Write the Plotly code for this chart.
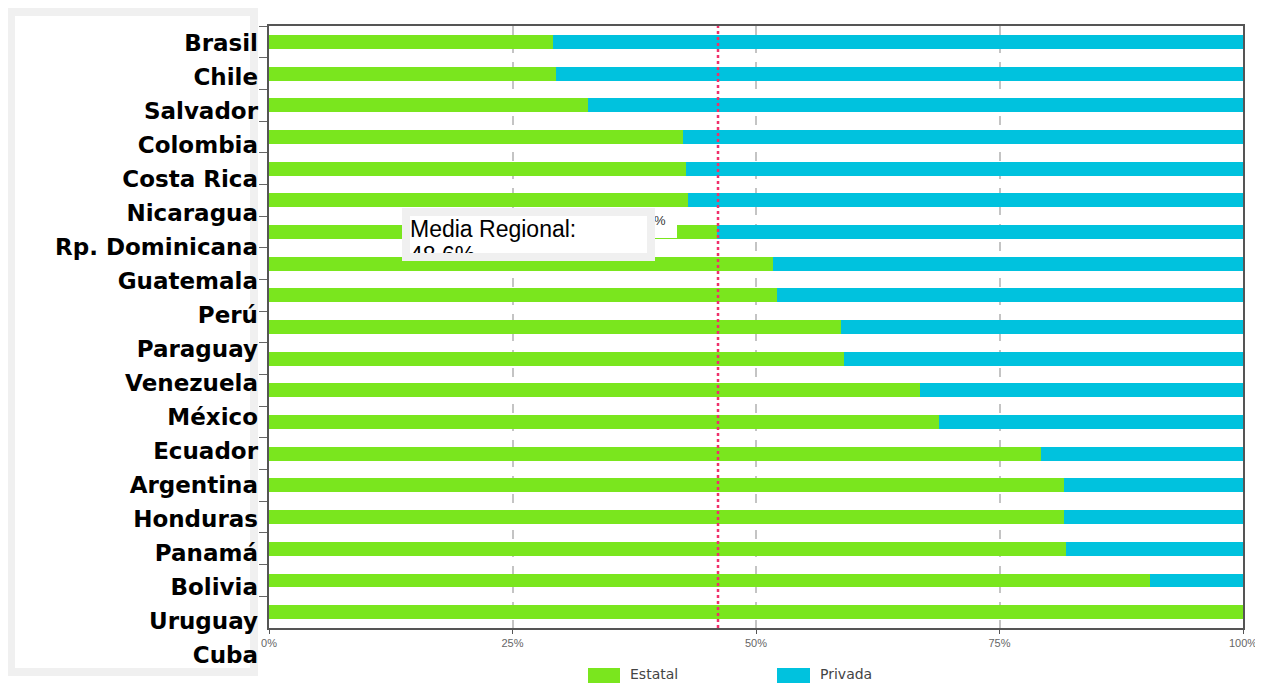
import plotly.graph_objects as go

countries = ["Brasil", "Chile", "Salvador", "Colombia", "Costa Rica", "Nicaragua",
             "Rp. Dominicana", "Guatemala", "Perú", "Paraguay", "Venezuela", "México",
             "Ecuador", "Argentina", "Honduras", "Panamá", "Bolivia", "Uruguay", "Cuba"]
estatal = [29.2, 29.5, 32.8, 42.5, 42.8, 43.0, 46.0, 51.7, 52.2, 58.7, 59.0, 66.8,
           68.8, 79.3, 81.6, 81.6, 81.8, 90.4, 100.0]
privada = [70.8, 70.5, 67.2, 57.5, 57.2, 57.0, 54.0, 48.3, 47.8, 41.3, 41.0, 33.2,
           31.2, 20.7, 18.4, 18.4, 18.2, 9.6, 0.0]
media_regional = 46.1
media_text = "48.6%"
x_ticks = [0, 25, 50, 75, 100]
x_tick_labels = ["0%", "25%", "50%", "75%", "100%"]
series_names = ["Estatal", "Privada"]

GREEN = "#7AE61E"
BLUE = "#00C2DE"

OFF = 8                      # page body margin
W, H = 1263 - OFF, 683 - OFF
ML = 269 - OFF
MT = 26 - OFF
MR = W - (1243 - OFF)
MB = H - (672 - OFF)
PW = W - ML - MR
PH = H - MT - MB
bar_bottom_px = 628          # screen px


def px(xs):
    return (xs - OFF - ML) / PW


def py(ys):
    return (H - MB - (ys - OFF)) / PH


n = len(countries)
fig = go.Figure()
fig.add_trace(go.Bar(y=countries, x=estatal, name=series_names[0], orientation="h",
                     marker=dict(color=GREEN, line=dict(width=0)), showlegend=False))
fig.add_trace(go.Bar(y=countries, x=privada, name=series_names[1], orientation="h",
                     marker=dict(color=BLUE, line=dict(width=0)), showlegend=False))
# invisible trace carrying the label axis
fig.add_trace(go.Scatter(y=countries, x=[0] * n, xaxis="x2", yaxis="y2", mode="markers",
                         marker=dict(opacity=0), hoverinfo="skip", showlegend=False))

fig.update_layout(
    width=W, height=H,
    margin=dict(l=ML, r=MR, t=MT, b=MB, autoexpand=False),
    paper_bgcolor="white", plot_bgcolor="rgba(0,0,0,0)",
    barmode="stack", bargap=0.56,
    showlegend=False,
    xaxis=dict(range=[0, 100], tickvals=x_ticks, ticktext=x_tick_labels,
               showgrid=True, gridcolor="#c4c4c4", griddash="dash", gridwidth=2,
               showline=True, linecolor="#555555", linewidth=2, mirror=True,
               ticks="outside", ticklen=4, tickcolor="#555555", zeroline=False,
               automargin=False,
               tickfont=dict(family="Liberation Sans", size=11, color="#666666"),
               anchor="y"),
    xaxis2=dict(range=[0, 1], domain=[0, 1], anchor="y2", visible=False,
                showgrid=False, zeroline=False),
    yaxis=dict(type="category", categoryarray=countries, range=[n - 0.5, -0.5],
               domain=[py(bar_bottom_px), 1], showticklabels=False,
               ticks="outside", tickson="boundaries", ticklen=8, tickcolor="#666666",
               showline=True, linecolor="#555555", linewidth=2, mirror=True,
               showgrid=False, zeroline=False, automargin=False),
    yaxis2=dict(type="category", categoryarray=countries, range=[n - 0.5, -0.5],
                domain=[0, 1], anchor="free", position=0, showline=False,
                showgrid=False, zeroline=False, ticks="", ticklabelstandoff=11,
                automargin=False,
                tickfont=dict(family="DejaVu Sans", size=23, color="black", weight="bold")),
)

# regional mean line
fig.add_shape(type="line", xref="x", yref="y domain", x0=media_regional, x1=media_regional,
              y0=0, y1=1, line=dict(color="#f0306a", width=2.5, dash="dot"))

# label panel frame
fig.add_shape(type="rect", xref="paper", yref="paper", x0=px(11), x1=px(254),
              y0=py(672), y1=py(12), line=dict(color="#f0f0f0", width=8), layer="below")

# hidden data label fragment
fig.add_annotation(xref="paper", yref="paper", x=px(654), y=py(213), xanchor="left",
                   yanchor="top", text="%", showarrow=False, width=23, height=25,
                   align="left", valign="top", bgcolor="white", borderpad=0, borderwidth=0,
                   font=dict(family="Liberation Sans", size=13, color="#333333"))

# Media Regional box
fig.add_annotation(xref="paper", yref="paper", x=px(402), y=py(208), xanchor="left",
                   yanchor="top", text="Media Regional:", showarrow=False, width=237,
                   height=37, align="left", valign="top", bgcolor="white",
                   bordercolor="#f0f0f0", borderwidth=8, borderpad=0,
                   font=dict(family="Liberation Sans", size=23, color="black"))
fig.add_annotation(xref="paper", yref="paper", x=px(410), y=py(242), xanchor="left",
                   yanchor="top", text=media_text, showarrow=False, width=200,
                   height=11, align="left", valign="top", borderpad=0, borderwidth=0,
                   font=dict(family="Liberation Sans", size=23, color="black"))

# legend
legend_items = [(series_names[0], GREEN, 588, 620), (series_names[1], BLUE, 777, 810)]
for name, col, x0, x1 in legend_items:
    fig.add_shape(type="rect", xref="paper", yref="paper", x0=px(x0), x1=px(x1),
                  y0=py(690), y1=py(668), line=dict(width=0), fillcolor=col)
    fig.add_annotation(xref="paper", yref="paper", x=px(x1 + 8), y=py(674),
                       xanchor="left", yanchor="middle", text=name, showarrow=False,
                       font=dict(family="DejaVu Sans", size=14, color="#444444"))

fig.write_html("out.html")
